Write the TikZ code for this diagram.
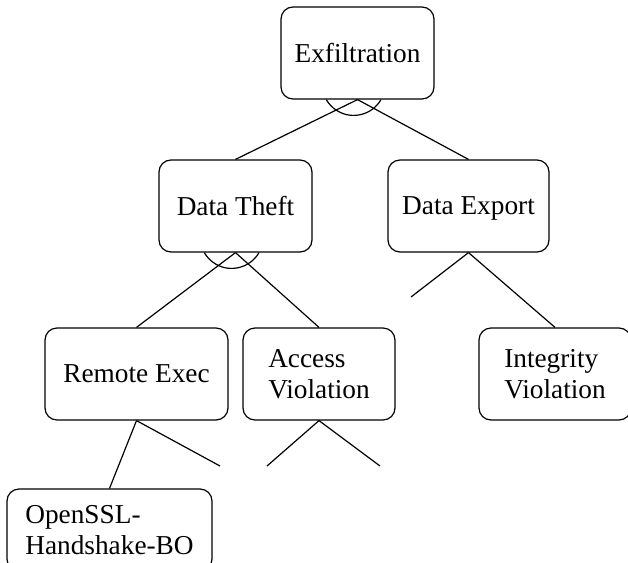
\documentclass[tikz,border=0pt]{standalone}
\usepackage{fontspec}
\setmainfont{Liberation Serif}
\usepackage{tikz}
\usetikzlibrary{calc}
\def\andarc(#1)% Syntax: (parent node) -- arc under its south side
{ \draw ($(#1.south)+(23.5,0)$) arc (30:150:31.6); }
\tikzset{
	attack/.style={draw, rounded corners=12pt, minimum height=92pt, align=left,
		font=\fontsize{27.3}{31}\selectfont, inner sep=0pt},
}

\begin{document}
\begin{tikzpicture}[x=1pt,y=-1pt,line width=1.2pt]
		\path[use as bounding box, clip] (0,0) rectangle (628,562);
		\node[attack,minimum width=153pt] (exfil) at (357.5,53) {Exfiltration};
		\node[attack,minimum width=153pt] (theft) at (235.5,206) {Data Theft};
		\node[attack,minimum width=161pt,text depth=0pt] (export) at (468.5,206) {Data Export};
		\node[attack,minimum width=183pt] (rexec) at (136.5,374) {Remote Exec};
		\node[attack,minimum width=152pt] (access) at (319,374) {Access\\Violation};
		\node[attack,minimum width=152pt] (integ) at (555,374) {Integrity\\Violation};
		\node[attack,minimum width=205pt,minimum height=82pt] (ossl) at (109.5,530) {OpenSSL-\\Handshake-BO};
		\coordinate (exportleft) at (411,297);
		\coordinate (rexecright) at (220,466);
		\coordinate (accessleft) at (267,466);
		\coordinate (accessright) at (380,466);
		\draw (exfil.south) -- (theft.north);
		\draw (exfil.south) -- (export.north);
		\andarc(exfil);
		\draw (theft.south) -- (rexec.north);
		\draw (theft.south) -- (access.north);
		\andarc(theft);
		\draw (export.south) -- (exportleft);
		\draw (export.south) -- (integ.north);
		\draw (rexec.south) -- (ossl.north);
		\draw (rexec.south) -- (rexecright);
		\draw (access.south) -- (accessleft);
		\draw (access.south) -- (accessright);
	\end{tikzpicture}
\end{document}
